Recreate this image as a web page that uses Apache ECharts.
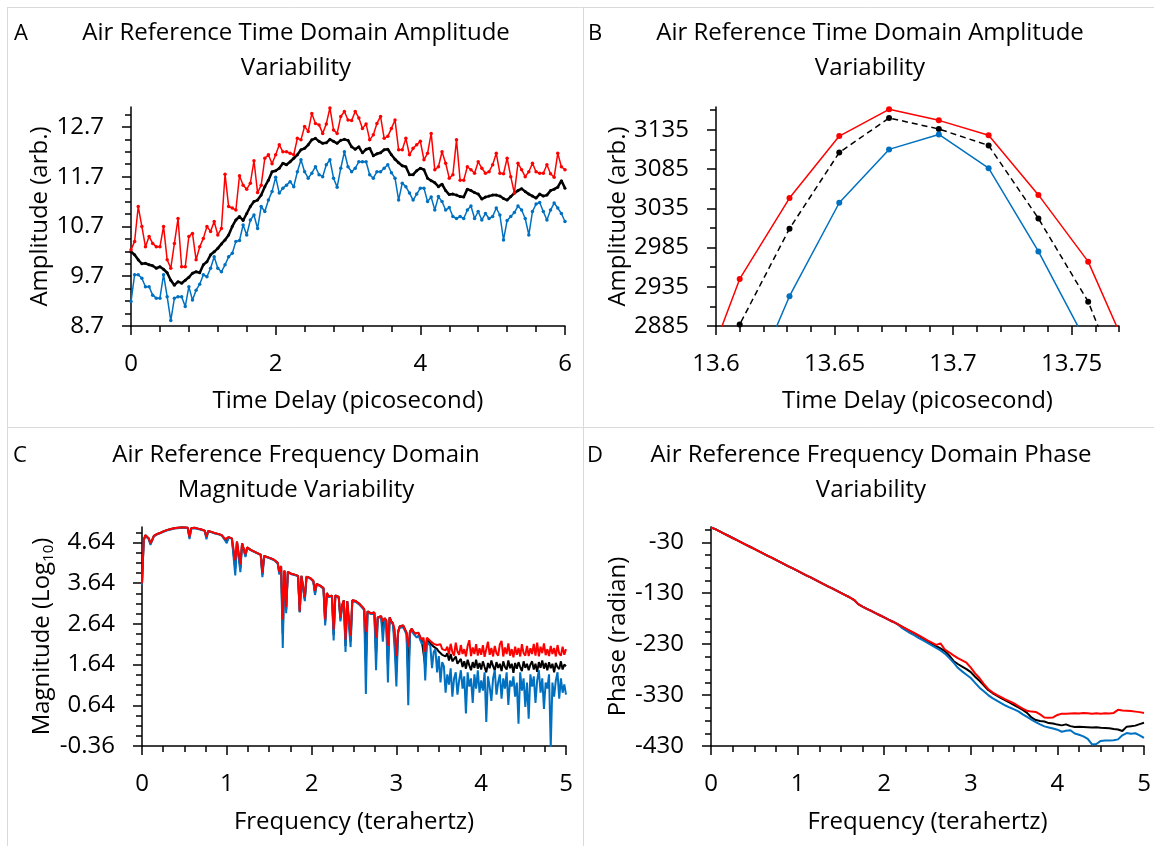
<!DOCTYPE html>
<html><head><meta charset="utf-8">
<script src="https://cdn.jsdelivr.net/npm/echarts@6.0.0/dist/echarts.min.js"></script>
<style>html,body{margin:0;padding:0;background:#fff}#c{width:1154px;height:846px}</style>
</head><body><div id="c"></div>
<script>
// ---------------- Panel A : time-domain amplitude (picosecond) ----------------
const aTime = [0,0.05,0.1,0.15,0.2,0.25,0.3,0.35,0.4,0.45,
0.5,0.55,0.6,0.65,0.7,0.75,0.8,0.85,0.9,0.95,
1,1.05,1.1,1.15,1.2,1.25,1.3,1.35,1.4,1.45,
1.5,1.55,1.6,1.65,1.7,1.75,1.8,1.85,1.9,1.95,
2,2.05,2.1,2.15,2.2,2.25,2.3,2.35,2.4,2.45,
2.5,2.55,2.6,2.65,2.7,2.75,2.8,2.85,2.9,2.95,
3,3.05,3.1,3.15,3.2,3.25,3.3,3.35,3.4,3.45,
3.5,3.55,3.6,3.65,3.7,3.75,3.8,3.85,3.9,3.95,
4,4.05,4.1,4.15,4.2,4.25,4.3,4.35,4.4,4.45,
4.5,4.55,4.6,4.65,4.7,4.75,4.8,4.85,4.9,4.95,
5,5.05,5.1,5.15,5.2,5.25,5.3,5.35,5.4,5.45,
5.5,5.55,5.6,5.65,5.7,5.75,5.8,5.85,5.9,5.95,
6];
const aRed = [10.23,10.40,11.10,10.70,10.29,10.50,10.36,10.29,10.29,10.70,
10.03,9.86,10.36,10.86,9.89,9.89,10.50,10.56,10.03,10.29,
10.46,10.70,10.60,10.80,10.53,10.66,11.75,11.10,11.07,11.03,
11.72,11.53,11.45,11.57,12.02,11.38,11.53,12.07,12.14,11.96,
12.14,12.34,12.20,12.20,12.17,12.14,12.47,12.44,12.71,12.61,
12.97,12.77,12.74,12.57,12.76,13.08,12.64,12.57,12.91,13.01,
12.84,12.83,13.01,12.88,12.67,12.76,12.44,12.54,12.77,12.91,
12.47,12.51,12.67,12.84,12.24,12.24,12.47,12.14,12.27,12.34,
12.41,12.04,12.17,12.57,11.84,11.90,12.20,11.97,11.67,11.74,
12.44,11.63,11.63,11.90,11.84,11.77,12.00,11.87,11.77,11.80,
11.94,12.17,11.77,11.76,12.07,11.70,11.37,11.97,11.84,11.70,
11.80,11.97,11.80,11.77,11.77,11.94,11.76,11.69,12.17,11.90,
11.84];
const aBlack = [10.19,10.13,10.03,9.95,9.96,9.93,9.91,9.86,9.89,9.84,
9.77,9.62,9.52,9.59,9.56,9.62,9.68,9.76,9.79,9.77,
9.93,9.99,10.13,10.19,10.26,10.35,10.43,10.53,10.70,10.83,
10.90,10.82,10.96,11.10,11.20,11.23,11.33,11.50,11.63,11.80,
11.82,11.87,11.97,11.94,12.00,12.07,12.14,12.24,12.27,12.34,
12.44,12.47,12.41,12.37,12.38,12.45,12.41,12.37,12.43,12.45,
12.43,12.30,12.25,12.30,12.18,12.25,12.27,12.12,12.16,12.18,
12.24,12.25,12.14,12.05,11.98,11.92,11.90,11.74,11.74,11.82,
11.87,11.84,11.67,11.62,11.58,11.50,11.55,11.42,11.34,11.35,
11.33,11.30,11.29,11.45,11.42,11.38,11.35,11.25,11.29,11.31,
11.33,11.33,11.31,11.26,11.23,11.30,11.37,11.42,11.46,11.40,
11.35,11.31,11.27,11.35,11.31,11.33,11.42,11.45,11.49,11.62,
11.47];
const aBlue = [9.19,9.73,9.73,9.66,9.49,9.49,9.32,9.26,9.26,9.73,
9.29,8.81,9.26,9.29,9.29,9.09,9.49,9.22,9.42,9.54,
9.73,9.69,9.86,10.09,9.86,9.79,9.93,10.09,10.16,10.40,
10.42,10.73,10.53,10.83,10.93,10.66,11.10,11.00,11.23,11.40,
11.69,11.37,11.47,11.53,11.60,11.50,11.80,12.04,11.80,11.67,
11.77,11.90,11.74,11.70,11.94,12.04,11.67,11.49,11.87,12.20,
11.90,11.80,11.87,12.00,12.00,12.00,11.74,11.67,11.80,11.80,
11.87,11.94,11.78,11.67,11.23,11.57,11.50,11.37,11.23,11.35,
11.47,11.47,11.20,11.29,11.03,11.30,11.20,11.03,11.08,10.90,
10.86,10.90,10.86,11.03,11.11,10.86,11.00,10.83,10.96,10.86,
10.90,11.07,10.93,10.43,10.82,10.90,10.98,11.11,11.03,10.86,
10.53,11.00,11.15,11.18,11.00,10.83,11.03,11.17,11.07,10.96,
10.80];
const aXTicks = [0,2,4,6];
const aXMinor = [0,0.4,0.8,1.2,1.6,2,2.4,2.8,3.2,3.6,4,4.4,4.8,5.2,5.6,6];
const aYTicks = [8.7,9.7,10.7,11.7,12.7];
const aYMinor = [8.7,8.95,9.2,9.45,9.7,9.95,10.2,10.45,10.7,10.95,11.2,11.45,11.7,11.95,12.2,12.45,12.7,12.95];

// ---------------- Panel B : zoom on the peak ----------------
const bTime = [13.589,13.610,13.631,13.652,13.673,13.694,13.715,13.736,13.757,13.778];
const bRed = [2776,2945,3048,3127,3161,3147,3128,3052,2967,2823];
const bBlack = [2766,2887,3009,3106,3150,3136,3115,3022,2916,2758];
const bBlue = [2626,2774,2923,3042,3110,3129,3086,2980,2860,2740];
const bXTicks = [13.6,13.65,13.7,13.75];
const bXMinor = [13.6,13.61,13.62,13.63,13.64,13.65,13.66,13.67,13.68,13.69,13.7,13.71,13.72,13.73,13.74,13.75,13.76,13.77];
const bYTicks = [2885,2935,2985,3035,3085,3135];
const bYMinor = [2885,2910,2935,2960,2985,3010,3035,3060,3085,3110,3135,3160];

// ---------------- Panel C : magnitude spectrum (log10) ----------------
const cFreq = [0,0.02,0.04,0.06,0.08,0.1,0.12,0.14,0.16,0.18,
0.2,0.22,0.24,0.26,0.28,0.3,0.32,0.34,0.36,0.38,
0.4,0.42,0.44,0.46,0.48,0.5,0.52,0.54,0.56,0.58,
0.6,0.62,0.64,0.66,0.68,0.7,0.72,0.74,0.76,0.78,
0.8,0.82,0.84,0.86,0.88,0.9,0.92,0.94,0.96,0.98,
1,1.02,1.04,1.06,1.08,1.1,1.12,1.14,1.16,1.18,
1.2,1.22,1.24,1.26,1.28,1.3,1.32,1.34,1.36,1.38,
1.4,1.42,1.44,1.46,1.48,1.5,1.52,1.54,1.56,1.58,
1.6,1.62,1.64,1.66,1.68,1.7,1.72,1.74,1.76,1.78,
1.8,1.82,1.84,1.86,1.88,1.9,1.92,1.94,1.96,1.98,
2,2.02,2.04,2.06,2.08,2.1,2.12,2.14,2.16,2.18,
2.2,2.22,2.24,2.26,2.28,2.3,2.32,2.34,2.36,2.38,
2.4,2.42,2.44,2.46,2.48,2.5,2.52,2.54,2.56,2.58,
2.6,2.62,2.64,2.66,2.68,2.7,2.72,2.74,2.76,2.78,
2.8,2.82,2.84,2.86,2.88,2.9,2.92,2.94,2.96,2.98,
3,3.02,3.04,3.06,3.08,3.1,3.12,3.14,3.16,3.18,
3.2,3.22,3.24,3.26,3.28,3.3,3.32,3.34,3.36,3.38,
3.4,3.42,3.44,3.46,3.48,3.5,3.52,3.54,3.56,3.58,
3.6,3.62,3.64,3.66,3.68,3.7,3.72,3.74,3.76,3.78,
3.8,3.82,3.84,3.86,3.88,3.9,3.92,3.94,3.96,3.98,
4,4.02,4.04,4.06,4.08,4.1,4.12,4.14,4.16,4.18,
4.2,4.22,4.24,4.26,4.28,4.3,4.32,4.34,4.36,4.38,
4.4,4.42,4.44,4.46,4.48,4.5,4.52,4.54,4.56,4.58,
4.6,4.62,4.64,4.66,4.68,4.7,4.72,4.74,4.76,4.78,
4.8,4.82,4.84,4.86,4.88,4.9,4.92,4.94,4.96,4.98,
5];
const cRed = [3.63,4.70,4.82,4.78,4.74,4.62,4.70,4.80,4.82,4.85,
4.86,4.88,4.90,4.92,4.93,4.95,4.96,4.97,4.98,4.99,
5.00,5.00,5.01,5.01,5.01,5.01,5.00,5.00,4.78,4.99,
5.00,5.00,4.99,4.98,4.97,4.96,4.95,4.93,4.78,4.92,
4.91,4.90,4.89,4.87,4.86,4.85,4.83,4.82,4.80,4.72,
4.68,4.77,4.76,4.74,4.72,4.20,4.66,4.64,4.10,4.62,
4.60,4.35,4.52,4.48,4.46,4.44,4.42,4.40,4.38,4.36,
4.34,3.90,4.31,4.30,4.28,4.27,4.25,4.23,4.21,4.19,
4.14,3.92,4.06,2.75,3.95,3.05,3.92,3.90,3.87,3.86,
3.85,3.84,3.82,2.95,3.82,3.80,3.30,3.80,3.79,3.77,
3.74,3.70,3.45,3.62,3.60,3.58,3.56,3.52,2.75,3.40,
3.32,3.35,3.33,2.50,3.34,3.36,3.30,2.80,3.10,3.22,
2.25,3.20,3.22,2.35,3.22,3.21,3.20,3.17,3.14,3.12,
3.05,3.00,2.44,2.95,2.97,2.90,2.88,2.92,2.30,2.80,
2.82,2.83,2.70,2.78,2.73,2.10,2.80,2.70,2.65,2.50,
1.85,2.45,2.58,2.62,2.60,2.58,2.42,2.08,2.45,2.52,
2.45,2.40,2.37,2.42,2.32,2.25,2.30,1.95,2.30,2.32,
2.22,2.20,2.15,2.18,2.12,2.08,2.14,2.02,2.06,1.99,
2.08,1.90,2.15,1.95,1.86,2.18,1.96,1.88,2.12,1.90,
2.02,1.84,2.10,2.24,1.85,2.06,1.90,2.14,1.86,2.04,
1.88,2.12,1.83,2.02,2.20,1.88,2.05,1.84,2.10,1.92,
1.86,2.14,2.22,1.84,2.06,1.90,2.16,1.86,2.02,1.82,
2.08,1.88,2.05,1.84,2.14,1.92,1.86,2.10,1.85,2.04,
1.90,2.15,1.86,2.18,1.84,2.08,1.92,2.16,1.87,2.02,
1.85,2.10,1.90,2.05,1.84,2.12,1.91,1.86,2.08,1.88,
2.02];
const cBlack = [3.63,4.70,4.82,4.78,4.74,4.61,4.70,4.80,4.82,4.85,
4.86,4.88,4.90,4.92,4.93,4.95,4.96,4.97,4.98,4.99,
5.00,5.00,5.01,5.01,5.01,5.01,5.00,5.00,4.76,4.99,
5.00,5.00,4.99,4.98,4.97,4.96,4.95,4.93,4.76,4.92,
4.91,4.90,4.89,4.87,4.86,4.85,4.83,4.82,4.80,4.71,
4.66,4.77,4.76,4.74,4.72,4.00,4.66,4.64,4.00,4.62,
4.60,4.32,4.52,4.48,4.46,4.44,4.42,4.40,4.38,4.36,
4.34,3.85,4.31,4.30,4.28,4.27,4.25,4.23,4.21,4.19,
4.14,3.88,4.06,2.40,3.95,2.98,3.92,3.90,3.87,3.86,
3.85,3.84,3.82,2.93,3.82,3.80,3.25,3.80,3.79,3.77,
3.74,3.70,3.40,3.62,3.60,3.58,3.56,3.52,2.68,3.40,
3.32,3.35,3.33,2.37,3.34,3.36,3.30,2.75,3.10,3.22,
2.10,3.20,3.22,2.21,3.22,3.21,3.20,3.17,3.14,3.12,
3.05,3.00,1.70,2.95,2.97,2.90,2.88,2.92,1.90,2.80,
2.82,2.83,2.45,2.78,2.73,1.65,2.80,2.70,2.65,2.25,
1.48,2.45,2.58,2.62,2.60,2.58,2.42,1.35,2.45,2.52,
2.45,2.40,2.37,2.42,2.32,2.22,2.26,1.60,2.26,2.28,
2.16,2.12,2.08,2.10,2.02,1.96,2.00,1.88,1.92,1.84,
1.92,1.74,1.90,1.72,1.68,1.84,1.66,1.62,1.78,1.58,
1.72,1.54,1.76,1.62,1.50,1.70,1.56,1.76,1.54,1.68,
1.52,1.72,1.58,1.45,1.68,1.55,1.74,1.60,1.50,1.70,
1.56,1.66,1.48,1.72,1.58,1.52,1.74,1.55,1.66,1.44,
1.68,1.54,1.70,1.58,1.48,1.72,1.56,1.66,1.50,1.64,
1.72,1.52,1.66,1.46,1.70,1.56,1.74,1.54,1.68,1.50,
1.70,1.55,1.66,1.45,1.68,1.58,1.53,1.72,1.52,1.64,
1.60];
const cBlue = [3.60,4.68,4.80,4.76,4.72,4.58,4.69,4.79,4.81,4.84,
4.85,4.87,4.89,4.91,4.92,4.94,4.95,4.96,4.97,4.98,
4.99,4.99,5.00,5.00,5.00,5.00,4.99,4.99,4.72,4.98,
4.99,4.99,4.98,4.97,4.96,4.95,4.94,4.92,4.72,4.91,
4.90,4.89,4.88,4.86,4.85,4.84,4.82,4.81,4.79,4.69,
4.62,4.76,4.75,4.73,4.71,3.83,4.65,4.63,3.91,4.61,
4.59,4.28,4.51,4.47,4.45,4.43,4.41,4.39,4.37,4.35,
4.33,3.79,4.30,4.29,4.27,4.26,4.24,4.22,4.20,4.18,
4.12,3.85,4.05,2.05,3.94,2.90,3.91,3.89,3.86,3.85,
3.84,3.83,3.81,2.92,3.81,3.79,3.20,3.79,3.78,3.76,
3.73,3.68,3.35,3.61,3.59,3.57,3.55,3.50,2.60,3.38,
3.30,3.33,3.31,2.23,3.32,3.34,3.28,2.70,3.08,3.20,
1.95,3.18,3.20,2.07,3.20,3.19,3.18,3.15,3.12,3.10,
3.03,2.98,0.92,2.93,2.95,2.88,2.86,2.90,1.50,2.78,
2.80,2.81,2.20,2.76,2.70,1.20,2.78,2.67,2.62,2.00,
1.10,2.42,2.55,2.58,2.56,2.54,2.38,0.64,2.40,2.48,
2.40,2.35,2.30,2.36,2.25,2.15,2.20,1.25,2.20,2.22,
2.10,1.55,1.95,2.02,1.45,1.85,1.20,1.70,1.60,0.95,
1.40,1.15,1.55,0.85,1.30,1.45,0.90,1.25,1.50,1.05,
1.35,0.44,1.45,1.10,1.30,0.70,1.40,1.05,1.50,0.95,
1.25,1.00,1.45,0.23,1.35,1.10,0.75,1.30,1.50,0.90,
1.20,1.40,0.80,1.30,1.05,1.45,0.65,1.25,1.10,1.35,
0.85,1.20,0.19,1.45,1.00,1.30,0.60,1.20,0.31,1.40,
1.10,1.35,0.70,1.25,1.50,0.95,1.30,0.55,1.20,1.05,
1.40,-0.40,1.20,0.85,1.25,1.45,0.80,1.30,0.95,1.15,
0.90];
const cXTicks = [0,1,2,3,4,5];
const cXMinor = [0,0.25,0.5,0.75,1,1.25,1.5,1.75,2,2.25,2.5,2.75,3,3.25,3.5,3.75,4,4.25,4.5,4.75,5];
const cYTicks = [-0.36,0.64,1.64,2.64,3.64,4.64];
const cYMinor = [-0.36,-0.11,0.14,0.39,0.64,0.89,1.14,1.39,1.64,1.89,2.14,2.39,2.64,2.89,3.14,3.39,3.64,3.89,4.14,4.39,4.64,4.89];

// ---------------- Panel D : phase spectrum (radian) ----------------
const dFreq = [0,0.05,0.1,0.15,0.2,0.25,0.3,0.35,0.4,0.45,
0.5,0.55,0.6,0.65,0.7,0.75,0.8,0.85,0.9,0.95,
1,1.05,1.1,1.15,1.2,1.25,1.3,1.35,1.4,1.45,
1.5,1.55,1.6,1.65,1.7,1.75,1.8,1.85,1.9,1.95,
2,2.05,2.1,2.15,2.2,2.25,2.3,2.35,2.4,2.45,
2.5,2.55,2.6,2.65,2.7,2.75,2.8,2.85,2.9,2.95,
3,3.05,3.1,3.15,3.2,3.25,3.3,3.35,3.4,3.45,
3.5,3.55,3.6,3.65,3.7,3.75,3.8,3.85,3.9,3.95,
4,4.05,4.1,4.15,4.2,4.25,4.3,4.35,4.4,4.45,
4.5,4.55,4.6,4.65,4.7,4.75,4.8,4.85,4.9,4.95,
5];
const dRed = [-1,-4.3,-8.6,-12.9,-17.2,-21.6,-25.9,-30.2,-34.5,-38.8,
-43.1,-47.4,-51.7,-56.0,-60.3,-64.7,-69.0,-73.3,-77.6,-81.9,
-86.2,-90.5,-94.8,-99.1,-103.4,-107.8,-112.1,-116.4,-120.7,-125.0,
-129.3,-133.6,-137.9,-143.0,-151.5,-156.3,-160.6,-164.8,-169.1,-173.3,
-177.5,-181.8,-186.0,-190.3,-195.0,-199.5,-204.0,-208.5,-213.0,-217.5,
-222.5,-227.0,-231.5,-228.5,-240.5,-246.0,-252.0,-257.5,-262.0,-266.5,
-276.0,-287.5,-296.5,-308.0,-318.0,-324.5,-329.5,-334.0,-338.5,-342.5,
-346.5,-351.5,-356.5,-361.0,-362.5,-363.0,-368.0,-374.0,-374.5,-374.0,
-369.0,-366.5,-366.5,-366.0,-365.5,-366.0,-365.0,-365.5,-366.5,-365.5,
-366.5,-365.5,-366.0,-365.0,-359.0,-360.5,-361.0,-361.5,-362.5,-363.5,
-365.0];
const dBlack = [-1,-4.3,-8.6,-12.9,-17.2,-21.6,-25.9,-30.2,-34.5,-38.8,
-43.1,-47.4,-51.7,-56.0,-60.3,-64.7,-69.0,-73.3,-77.6,-81.9,
-86.2,-90.5,-94.8,-99.1,-103.4,-107.8,-112.1,-116.4,-120.7,-125.0,
-129.3,-133.6,-137.9,-143.0,-151.5,-156.3,-160.6,-164.8,-169.1,-173.3,
-177.5,-181.8,-186.0,-190.3,-195.0,-200.0,-204.5,-209.0,-214.0,-219.0,
-224.0,-229.0,-234.0,-238.5,-243.5,-252.0,-263.0,-269.0,-274.0,-279.0,
-285.0,-294.0,-302.0,-311.0,-320.0,-326.0,-331.0,-336.0,-340.5,-345.0,
-349.5,-354.0,-359.0,-365.0,-374.0,-379.0,-381.0,-382.0,-385.0,-386.0,
-388.0,-389.5,-387.5,-391.0,-392.5,-392.0,-392.5,-393.0,-393.5,-393.0,
-394.0,-394.5,-395.0,-396.5,-397.5,-400.5,-392.0,-391.0,-390.0,-387.0,
-384.5];
const dBlue = [-1,-4.3,-8.6,-12.9,-17.2,-21.6,-25.9,-30.2,-34.5,-38.8,
-43.1,-47.4,-51.7,-56.0,-60.3,-64.7,-69.0,-73.3,-77.6,-81.9,
-86.2,-90.5,-94.8,-99.1,-103.4,-107.8,-112.1,-116.4,-120.7,-125.0,
-129.3,-133.6,-137.9,-143.0,-151.5,-156.3,-160.6,-164.8,-169.1,-173.3,
-177.5,-181.8,-186.0,-190.3,-197.5,-203.0,-208.5,-213.0,-218.0,-222.5,
-227.5,-232.5,-237.5,-242.5,-248.5,-257.0,-266.0,-276.5,-283.5,-290.0,
-296.5,-306.0,-315.5,-322.5,-330.0,-336.0,-341.0,-346.0,-350.5,-354.5,
-358.0,-362.0,-368.0,-373.0,-378.0,-383.0,-387.5,-391.5,-393.5,-395.5,
-398.0,-402.0,-400.0,-399.0,-405.5,-408.0,-411.0,-416.0,-427.0,-426.0,
-420.0,-419.0,-419.0,-418.5,-417.0,-409.0,-404.5,-406.0,-405.0,-409.0,
-414.0];
const dXTicks = [0,1,2,3,4,5];
const dXMinor = [0,0.25,0.5,0.75,1,1.25,1.5,1.75,2,2.25,2.5,2.75,3,3.25,3.5,3.75,4,4.25,4.5,4.75,5];
const dYTicks = [-430,-330,-230,-130,-30];
const dYMinor = [-430,-405,-380,-355,-330,-305,-280,-255,-230,-205,-180,-155,-130,-105,-80,-55,-30,-5];

// ---------------- layout / style ----------------
const FONT = '"Open Sans","Noto Sans",sans-serif';
const RED = '#ff0000', BLACK = '#000000', BLUE = '#0070c0';
const AX = {color:'#000', width:1.5};
const plain = v => String(v);

const panels = [
  {grid:{left:131, top:107, width:434, height:219}, x:[0,6], y:[8.7,13.1],
   xT:aXTicks, xM:aXMinor, yT:aYTicks, yM:aYMinor,
   xName:'Time Delay (picosecond)', yName:'Amplitude (arb.)', xGap:63, yGap:72},
  {grid:{left:716, top:107, width:403, height:219}, x:[13.6,13.77], y:[2885,3164],
   xT:bXTicks, xM:bXMinor, yT:bYTicks, yM:bYMinor,
   xName:'Time Delay (picosecond)', yName:'Amplitude (arb.)', xGap:63, yGap:86},
  {grid:{left:142, top:527, width:424, height:219}, x:[0,5], y:[-0.36,5.02],
   xT:cXTicks, xM:cXMinor, yT:cYTicks, yM:cYMinor,
   xName:'Frequency (terahertz)', yName:'Magnitude (Log{sub|10})', xGap:64, yGap:82},
  {grid:{left:711, top:527, width:433, height:219}, x:[0,5], y:[-430,0],
   xT:dXTicks, xM:dXMinor, yT:dYTicks, yM:dYMinor,
   xName:'Frequency (terahertz)', yName:'Phase (radian)', xGap:64, yGap:81}
];

const grids = [], xAxes = [], yAxes = [];
panels.forEach((p, i) => {
  grids.push(Object.assign({containLabel:false, outerBoundsMode:'none', show:false}, p.grid));
  const nameStyle = {color:'#000', fontFamily:FONT, fontSize:24,
    rich:{sub:{fontSize:15, fontFamily:FONT, color:'#000', verticalAlign:'bottom', padding:[12,0,0,0]}}};
  xAxes.push({type:'value', gridIndex:i, min:p.x[0], max:p.x[1], position:'bottom',
    axisLine:{show:true, onZero:false, lineStyle:AX},
    axisTick:{show:true, customValues:p.xT, length:9, lineStyle:AX},
    axisLabel:{show:true, customValues:p.xT, formatter:plain, margin:26, color:'#000', fontFamily:FONT, fontSize:24, hideOverlap:false},
    splitLine:{show:false}, minorTick:{show:false},
    name:p.xName, nameLocation:'middle', nameGap:p.xGap, nameTextStyle:nameStyle});
  xAxes.push({type:'value', gridIndex:i, min:p.x[0], max:p.x[1], position:'bottom',
    axisLine:{show:false, onZero:false},
    axisTick:{show:true, customValues:p.xM, length:6, lineStyle:AX},
    axisLabel:{show:false}, splitLine:{show:false}});
  yAxes.push({type:'value', gridIndex:i, min:p.y[0], max:p.y[1], position:'left',
    axisLine:{show:true, onZero:false, lineStyle:AX},
    axisTick:{show:true, customValues:p.yT, length:9, lineStyle:AX},
    axisLabel:{show:true, customValues:p.yT, formatter:plain, margin:27, color:'#000', fontFamily:FONT, fontSize:24, hideOverlap:false},
    splitLine:{show:false},
    name:p.yName, nameLocation:'middle', nameGap:p.yGap, nameTextStyle:nameStyle});
  yAxes.push({type:'value', gridIndex:i, min:p.y[0], max:p.y[1], position:'left',
    axisLine:{show:false, onZero:false},
    axisTick:{show:true, customValues:p.yM, length:6, lineStyle:AX},
    axisLabel:{show:false}, splitLine:{show:false}});
});

function pairs(xs, ys){ return xs.map((x, k) => [x, ys[k]]); }
function line(gi, xs, ys, color, width, opts){
  opts = opts || {};
  return {type:'line', xAxisIndex:2*gi, yAxisIndex:2*gi, data:pairs(xs, ys),
    clip:true, silent:true, animation:false, smooth:false,
    showSymbol:!!opts.sym, showAllSymbol:true, symbol:'circle', symbolSize:opts.sym || 0,
    lineStyle:{color:color, width:width, type:opts.dash ? [6,4] : 'solid'},
    itemStyle:{color:color, borderWidth:0}, z:opts.z || 2};
}

const series = [
  line(0, aTime, aBlack, BLACK, 2.5, {sym:3}),
  line(0, aTime, aBlue, BLUE, 1.5, {sym:3.5}),
  line(0, aTime, aRed, RED, 1.5, {sym:3.5}),
  line(1, bTime, bBlack, BLACK, 1.5, {sym:6, dash:true}),
  line(1, bTime, bBlue, BLUE, 1.5, {sym:6}),
  line(1, bTime, bRed, RED, 1.5, {sym:6}),
  line(2, cFreq, cBlack, BLACK, 2),
  line(2, cFreq, cBlue, BLUE, 2),
  line(2, cFreq, cRed, RED, 2),
  line(3, dFreq, dBlack, BLACK, 2),
  line(3, dFreq, dBlue, BLUE, 2),
  line(3, dFreq, dRed, RED, 2)
];

function txt(s, x, y, size, align){
  return {type:'text', silent:true, style:{text:s, x:x, y:y, fill:'#000',
    font:size + 'px ' + FONT, textAlign:align || 'center', textVerticalAlign:'middle'}};
}
function ln(x1, y1, x2, y2){
  return {type:'line', silent:true, shape:{x1:x1, y1:y1, x2:x2, y2:y2}, style:{stroke:'#d9d9d9', lineWidth:1}};
}
const graphic = [
  ln(7, 7.5, 1154, 7.5), ln(7, 427.5, 1154, 427.5), ln(7.5, 7, 7.5, 846), ln(583.5, 7, 583.5, 846),
  txt('A', 14, 34, 22, 'left'), txt('B', 588, 34, 22, 'left'),
  txt('C', 13, 456, 22, 'left'), txt('D', 587, 456, 22, 'left'),
  txt('Air Reference Time Domain Amplitude', 296, 33, 24), txt('Variability', 296, 68, 24),
  txt('Air Reference Time Domain Amplitude', 870, 33, 24), txt('Variability', 870, 68, 24),
  txt('Air Reference Frequency Domain', 296, 455, 24), txt('Magnitude Variability', 296, 490, 24),
  txt('Air Reference Frequency Domain Phase', 871, 455, 24), txt('Variability', 871, 490, 24)
];

const chart = echarts.init(document.getElementById('c'), null, {renderer:'canvas'});
chart.setOption({animation:false, backgroundColor:'#fff', grid:grids, xAxis:xAxes, yAxis:yAxes,
  series:series, graphic:graphic, tooltip:{show:false}});
</script></body></html>
